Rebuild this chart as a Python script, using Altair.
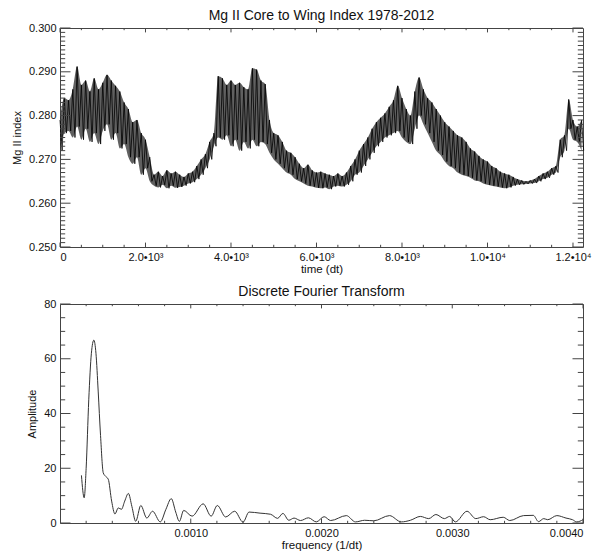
import altair as alt
import pandas as pd

FONT = "Liberation Sans"
FRAME = "#444444"
TXT = "#111111"

# ---------------- top panel data ----------------
time_index = list(range(0, 12300, 100))
mg_hi = [
    0.2790, 0.2840, 0.2835, 0.2860, 0.2912, 0.2870, 0.2880, 0.2855, 0.2885, 0.2860,
    0.2875, 0.2893, 0.2880, 0.2868, 0.2855, 0.2830, 0.2815, 0.2785, 0.2790, 0.2760,
    0.2745, 0.2705, 0.2665, 0.2672, 0.2662, 0.2675, 0.2668, 0.2672, 0.2665, 0.2660,
    0.2668, 0.2672, 0.2685, 0.2700, 0.2712, 0.2740, 0.2760, 0.2890, 0.2885, 0.2870,
    0.2880, 0.2870, 0.2875, 0.2865, 0.2860, 0.2908, 0.2905, 0.2880, 0.2872, 0.2790,
    0.2760, 0.2755, 0.2740, 0.2720, 0.2715, 0.2705, 0.2690, 0.2680, 0.2688, 0.2675,
    0.2670, 0.2672, 0.2668, 0.2665, 0.2662, 0.2668, 0.2662, 0.2670, 0.2685, 0.2700,
    0.2720, 0.2735, 0.2750, 0.2770, 0.2785, 0.2795, 0.2805, 0.2820, 0.2835, 0.2868,
    0.2840, 0.2815, 0.2800, 0.2855, 0.2887, 0.2860, 0.2840, 0.2830, 0.2815, 0.2800,
    0.2785, 0.2775, 0.2765, 0.2755, 0.2750, 0.2740, 0.2725, 0.2718, 0.2708, 0.2700,
    0.2695, 0.2685, 0.2680, 0.2672, 0.2668, 0.2665, 0.2660, 0.2655, 0.2652, 0.2650,
    0.2652, 0.2655, 0.2662, 0.2668, 0.2672, 0.2680, 0.2685, 0.2745, 0.2755, 0.2837,
    0.2790, 0.2775, 0.2790,
]
mg_lo = [
    0.2720, 0.2760, 0.2765, 0.2750, 0.2775, 0.2745, 0.2770, 0.2740, 0.2760, 0.2735,
    0.2765, 0.2780, 0.2745, 0.2760, 0.2725, 0.2735, 0.2705, 0.2690, 0.2705, 0.2665,
    0.2680, 0.2650, 0.2640, 0.2636, 0.2642, 0.2634, 0.2640, 0.2635, 0.2637, 0.2640,
    0.2645, 0.2648, 0.2655, 0.2665, 0.2680, 0.2700, 0.2730, 0.2750, 0.2745, 0.2755,
    0.2730, 0.2745, 0.2720, 0.2740, 0.2725, 0.2745, 0.2730, 0.2740, 0.2735, 0.2715,
    0.2700, 0.2690, 0.2680, 0.2670, 0.2665, 0.2655, 0.2650, 0.2645, 0.2640, 0.2638,
    0.2635, 0.2634, 0.2636, 0.2632, 0.2638, 0.2640, 0.2638, 0.2642, 0.2650, 0.2665,
    0.2670, 0.2685, 0.2700, 0.2715, 0.2730, 0.2740, 0.2750, 0.2755, 0.2760, 0.2765,
    0.2750, 0.2740, 0.2735, 0.2770, 0.2800, 0.2780, 0.2760, 0.2740, 0.2720, 0.2710,
    0.2695, 0.2685, 0.2680, 0.2670, 0.2665, 0.2662, 0.2658, 0.2652, 0.2650, 0.2645,
    0.2642, 0.2640, 0.2638, 0.2636, 0.2634, 0.2636, 0.2640, 0.2642, 0.2643, 0.2644,
    0.2645, 0.2646, 0.2650, 0.2655, 0.2658, 0.2665, 0.2670, 0.2705, 0.2720, 0.2770,
    0.2745, 0.2740, 0.2720,
]
t_label_values = [0, 2000, 4000, 6000, 8000, 10000, 12000]
t_label_texts = ["0", "2.0\u202210\u00b3", "4.0\u202210\u00b3", "6.0\u202210\u00b3",
                 "8.0\u202210\u00b3", "1.0\u202210\u2074", "1.2\u202210\u2074"]
v_label_values = [0.25, 0.26, 0.27, 0.28, 0.29, 0.30]

# ---------------- bottom panel data ----------------
freq = [
    0.000164, 0.000185, 0.000200, 0.000220, 0.000240, 0.000259, 0.000275, 0.000292,
    0.000310, 0.000331, 0.000350, 0.000369, 0.000395, 0.000420, 0.000446, 0.000470,
    0.000495, 0.000523, 0.000550, 0.000579, 0.000618, 0.000664, 0.000708, 0.000767,
    0.000810, 0.000851, 0.000885, 0.000913, 0.000946, 0.001010, 0.001095, 0.001156,
    0.001203, 0.001267, 0.001336, 0.001400, 0.001446, 0.001530, 0.001610, 0.001664,
    0.001705, 0.001750, 0.001790, 0.001840, 0.001900, 0.001960, 0.002020, 0.002070,
    0.002190, 0.002260, 0.002330, 0.002400, 0.002520, 0.002610, 0.002680, 0.002756,
    0.002820, 0.002875, 0.002940, 0.002980, 0.003024, 0.003113, 0.003180, 0.003240,
    0.003290, 0.003390, 0.003440, 0.003545, 0.003620, 0.003660, 0.003700, 0.003730,
    0.003800, 0.003870, 0.003920, 0.003952, 0.004000,
]
amplitude = [
    17.4, 9.2, 20.0, 45.0, 62.0, 66.8, 62.0, 48.2,
    32.0, 18.3, 17.0, 16.0, 8.0, 3.3, 5.5, 5.0,
    8.0, 10.8, 6.0, 0.6, 6.4, 1.8, 4.3, 0.4,
    5.0, 8.9, 4.0, 0.6, 4.6, 2.5, 7.0, 2.5,
    6.4, 2.2, 4.3, 0.3, 4.0, 3.6, 3.2, 1.7,
    3.5, 1.0, 1.8, 0.9, 1.9, 0.4, 2.3, 0.9,
    2.7, 0.4, 1.0, 0.8, 2.7, 0.4, 1.0, 2.4,
    1.6, 3.1, 1.6, 2.4, 0.4, 4.3, 1.6, 2.3,
    1.2, 2.1, 0.9, 2.7, 2.8, 0.5, 1.6, 1.2,
    2.7, 1.8, 1.2, 0.4, 1.2,
]
f_label_values = [0.001, 0.002, 0.003, 0.004]
a_label_values = [0, 20, 40, 60, 80]

W, H = 523, 219
Y_MAJ, Y_MIN = 10.5, 5.2   # y-axis tick lengths (IDL style, inward)
X_MAJ, X_MIN = 4.4, 2.2    # x-axis tick lengths

# ---------------- build tables ----------------
rows = []
for t, hi, lo in zip(time_index, mg_hi, mg_lo):
    rows.append({"t": t, "v": hi})
    rows.append({"t": t + 50, "v": lo})
mg_df = pd.DataFrame(rows)
band_df = pd.DataFrame({"t": time_index, "v": mg_lo, "v2": mg_hi})
dft_df = pd.DataFrame({"f": freq, "a": amplitude})

t_scale = alt.Scale(domain=[0, 12234], nice=False, zero=False)
v_scale = alt.Scale(domain=[0.25, 0.30], nice=False, zero=False)
f_scale = alt.Scale(domain=[0, 0.004], nice=False, zero=False)
a_scale = alt.Scale(domain=[0, 80], nice=False, zero=False)

t_expr = "[" + ",".join(f"'{s}'" for s in t_label_texts) + "][indexof([" + \
    ",".join(str(v) for v in t_label_values) + "], datum.value)]"

t_axis = alt.Axis(title="time (dt)", values=t_label_values, labelExpr=t_expr)
v_axis = alt.Axis(title="Mg II index", values=v_label_values, format=".3f")
f_axis = alt.Axis(title="frequency (1/dt)", values=f_label_values, format=".4f")
a_axis = alt.Axis(title="Amplitude", values=a_label_values, format="d")

t_major = t_label_values
t_minor = [x for x in range(500, 12234, 500) if x % 2000]
v_major = v_label_values
v_minor = [round(0.25 + i * 0.001, 3) for i in range(1, 50) if i % 10]
f_major = f_label_values
f_minor = [round(i * 0.0002, 4) for i in range(1, 20) if i % 5]
a_major = a_label_values
a_minor = [i * 5 for i in range(1, 16) if i % 4]


def xticks(vals, field, scale, axis, length):
    d = pd.DataFrame({field: vals})
    base = alt.Chart(d).mark_rule(color=FRAME, strokeWidth=1)
    bot = base.encode(x=alt.X(f"{field}:Q", scale=scale, axis=axis),
                      y=alt.value(H), y2=alt.value(H - length))
    top = base.encode(x=alt.X(f"{field}:Q", scale=scale, axis=axis),
                      y=alt.value(0), y2=alt.value(length))
    return [bot, top]


def yticks(vals, field, scale, axis, length):
    d = pd.DataFrame({field: vals})
    base = alt.Chart(d).mark_rule(color=FRAME, strokeWidth=1)
    left = base.encode(y=alt.Y(f"{field}:Q", scale=scale, axis=axis),
                       x=alt.value(0), x2=alt.value(length))
    right = base.encode(y=alt.Y(f"{field}:Q", scale=scale, axis=axis),
                        x=alt.value(W), x2=alt.value(W - length))
    return [left, right]


top_band = alt.Chart(band_df).mark_area(color="#222222", opacity=0.72,
                                        interpolate="monotone").encode(
    x=alt.X("t:Q", scale=t_scale, axis=t_axis),
    y=alt.Y("v:Q", scale=v_scale, axis=v_axis),
    y2="v2:Q",
)
top_line = alt.Chart(mg_df).mark_line(color="#000000", strokeWidth=0.8).encode(
    x=alt.X("t:Q", scale=t_scale, axis=t_axis),
    y=alt.Y("v:Q", scale=v_scale, axis=v_axis),
)

title_kw = dict(fontSize=14, font=FONT, fontWeight="normal", color=TXT,
                offset=-1, frame="group")

top = alt.layer(
    top_band, top_line,
    *xticks(t_major, "t", t_scale, t_axis, X_MAJ), *xticks(t_minor, "t", t_scale, t_axis, X_MIN),
    *yticks(v_major, "v", v_scale, v_axis, Y_MAJ), *yticks(v_minor, "v", v_scale, v_axis, Y_MIN),
).properties(
    width=W, height=H,
    title=alt.Title("Mg II Core to Wing Index 1978-2012", **title_kw),
)

bot_line = alt.Chart(dft_df).mark_line(color="#333333", strokeWidth=1,
                                       interpolate="monotone").encode(
    x=alt.X("f:Q", scale=f_scale, axis=f_axis),
    y=alt.Y("a:Q", scale=a_scale, axis=a_axis),
)

bottom = alt.layer(
    bot_line,
    *xticks(f_major, "f", f_scale, f_axis, X_MAJ), *xticks(f_minor, "f", f_scale, f_axis, X_MIN),
    *yticks(a_major, "a", a_scale, a_axis, Y_MAJ), *yticks(a_minor, "a", a_scale, a_axis, Y_MIN),
).properties(
    width=W, height=H,
    title=alt.Title("Discrete Fourier Transform", **title_kw),
)

chart = alt.vconcat(top, bottom, spacing=57, bounds="flush").properties(
    padding={"left": 2, "top": 0, "right": 0, "bottom": 0},
    background="white",
).configure_view(
    stroke=FRAME, strokeWidth=1,
).configure_axis(
    labelFont=FONT, titleFont=FONT, labelFontSize=11, titleFontSize=11.5,
    titleFontWeight="normal", labelColor=TXT, titleColor=TXT,
    ticks=False, domain=False, grid=False, labelPadding=4,
).configure_axisX(
    titlePadding=1,
).configure_axisY(
    titlePadding=6, titleFontSize=11,
)

chart.save("out.html", embed_options={"renderer": "svg", "actions": False})
